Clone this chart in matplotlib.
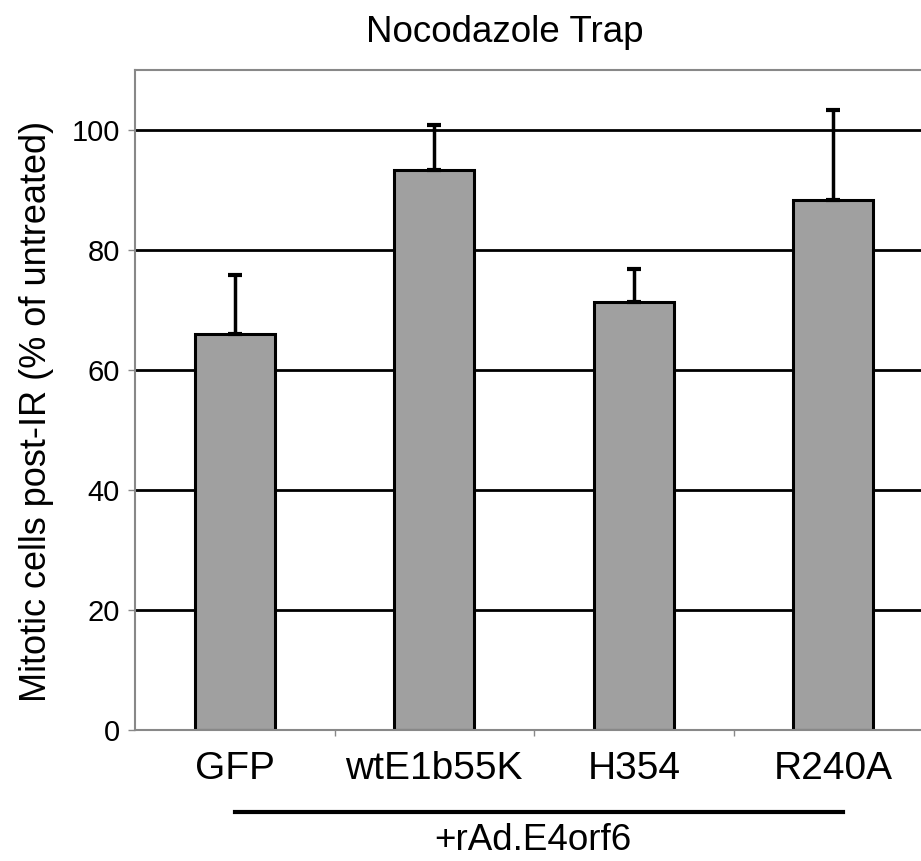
import matplotlib
matplotlib.use("Agg")
from matplotlib import pyplot as plt
import matplotlib.transforms as mtransforms
import numpy as np

plt.rcParams['font.family'] = ['Liberation Sans Narrow', 'Liberation Sans', 'DejaVu Sans']

categories = ['GFP', 'wtE1b55K', 'H354', 'R240A']
values = [66.0, 93.3, 71.3, 88.3]
errors = [9.8, 7.5, 5.5, 15.0]
y_ticks = [0, 20, 40, 60, 80, 100]
title = 'Nocodazole Trap'
y_label = 'Mitotic cells post-IR (% of untreated)'
group_label = '+rAd.E4orf6'

W, H = 921, 861
fig = plt.figure(figsize=(W / 100, H / 100), dpi=100)
ax = fig.add_axes([135 / W, (H - 730) / H, (933 - 135) / W, (730 - 70) / H])

x = np.arange(len(categories))
ax.set_axisbelow(True)
ax.yaxis.grid(True, color='black', linewidth=2.0)
ax.bar(x, values, 0.4, color='#a0a0a0', edgecolor='black', linewidth=2.2, zorder=2)
ax.errorbar(x, values, yerr=[np.zeros(len(errors)), errors], fmt='none',
            ecolor='black', elinewidth=2.5, capsize=5, capthick=3, zorder=3)

ax.set_xlim(-0.5, 3.5)
ax.set_ylim(0, 110)
ax.set_yticks(y_ticks)
ax.set_yticklabels([str(t) for t in y_ticks], fontsize=21)
ax.set_xticks(x)
ax.set_xticklabels(categories, fontsize=28)
ax.tick_params(axis='x', length=0, pad=15)
ax.set_xticks(x[:-1] + 0.5, minor=True)
ax.tick_params(axis='x', which='minor', length=4, color='#888888', width=1)
ax.tick_params(axis='y', length=5, color='#888888', width=1, pad=6)

for side in ['left', 'top', 'bottom', 'right']:
    ax.spines[side].set_color('#888888')
    ax.spines[side].set_linewidth(1.5)

ax.set_ylabel(y_label, fontsize=26)
ax.yaxis.set_label_coords(-0.102, 0.483)
fig.text(505 / W, 1 - 33 / H, title, fontsize=26.5, ha='center', va='center')

# bracket line under categories
trans = mtransforms.blended_transform_factory(ax.transData, fig.transFigure)
ax.plot([0, 3.05], [1 - 812 / H] * 2, color='black', linewidth=3,
        transform=trans, clip_on=False)
fig.text(533 / W, 1 - 841 / H, group_label, fontsize=26.5, ha='center', va='center')

plt.savefig('out.png', dpi=100)
